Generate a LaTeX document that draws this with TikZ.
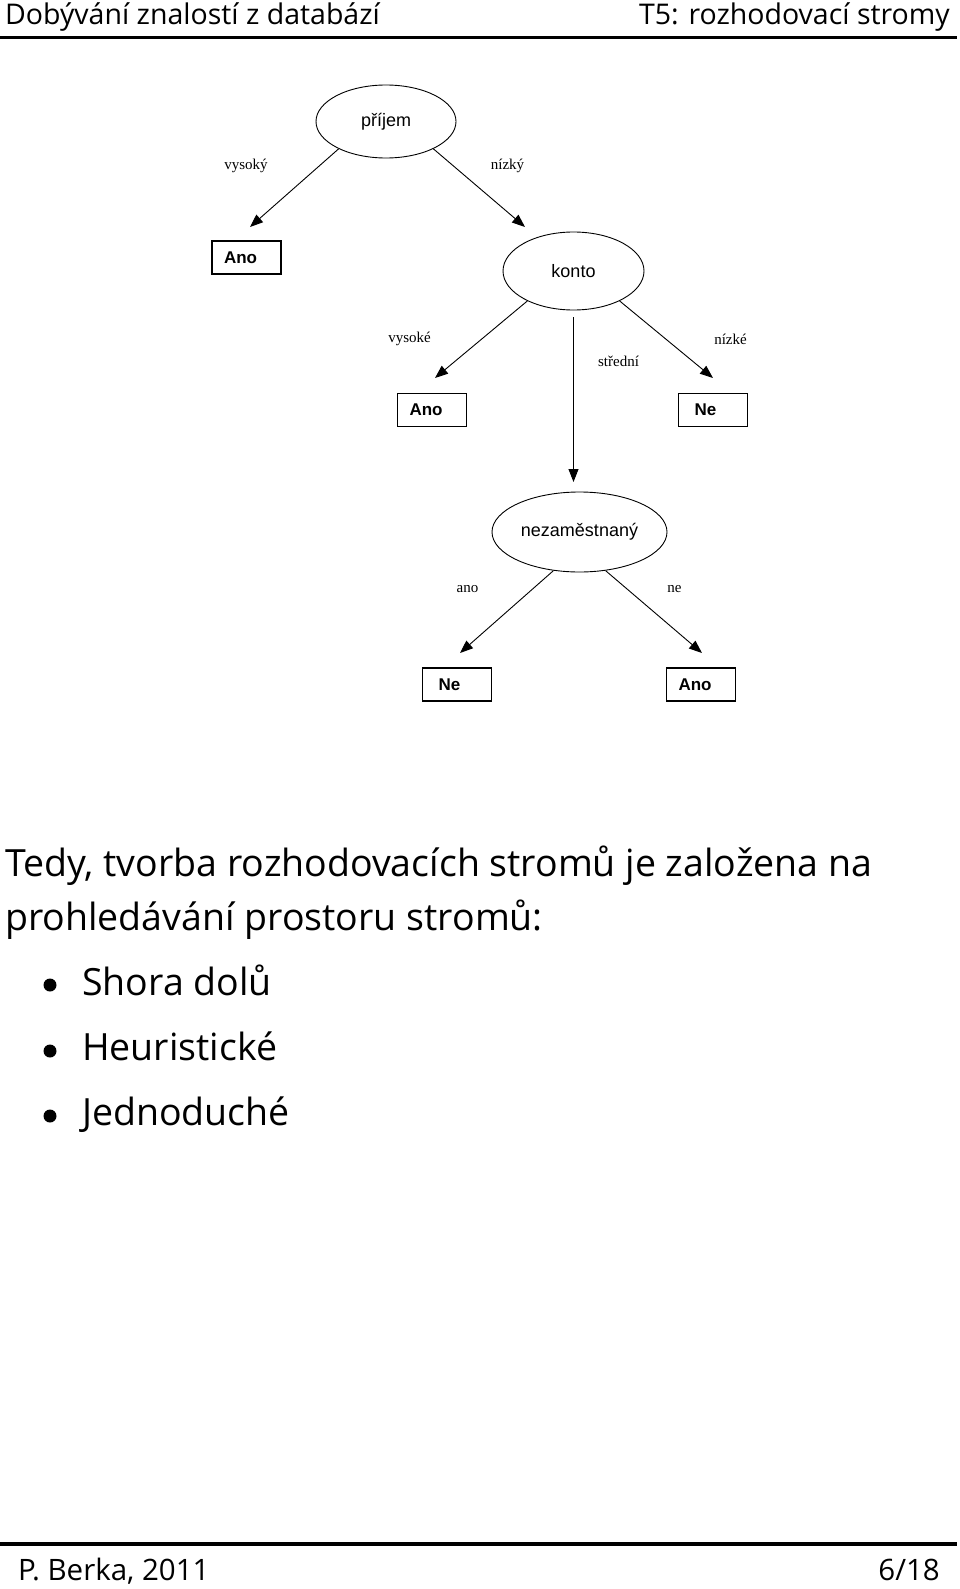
\documentclass[tikz,border=0pt]{standalone}
\usepackage{fontspec}
\usetikzlibrary{shapes.geometric,arrows.meta}
\newfontfamily\fComic{Open Sans}
\newfontfamily\fArial{Liberation Sans}
\newfontfamily\fTimes{Liberation Serif}
\begin{document}
\begin{tikzpicture}[x=1pt,y=-1pt,
  dec/.style={ellipse,draw,line width=0.9pt,inner sep=0pt,font=\fArial\fontsize{18}{20}\selectfont},
  leaf/.style={draw,line width=1.2pt,inner xsep=12pt,inner ysep=0pt,text width=45pt,minimum height=33pt,align=left,font=\fArial\bfseries\fontsize{17}{19}\selectfont},
  elab/.style={inner sep=0pt,font=\fTimes\fontsize{15}{17}\selectfont},
  arr/.style={line width=0.9pt,-{Triangle[length=13pt,width=10pt]}},
  slide/.style={inner sep=0pt,anchor=base west,font=\fComic\fontsize{37.5}{42}\selectfont},
  hdr/.style={inner sep=0pt,font=\fComic\fontsize{28.5}{32}\selectfont},
  ftr/.style={inner sep=0pt,font=\fComic\fontsize{29.5}{32}\selectfont},
  bul/.style={circle,fill=black,minimum size=13pt,inner sep=0pt},
  rule/.style={line width=3pt}
]
\useasboundingbox (0,0) rectangle (960,1589);
% header
\node[hdr,anchor=base west] (h1) at (5,25) {Dobývání znalostí z databází};
\node[hdr,anchor=base east] (h2) at (950,25) {T5: rozhodovací stromy};
\coordinate (hl) at (0,38); \coordinate (hr) at (957,38);
\draw[rule] (hl) -- (hr);
% tree
\node[dec,minimum width=140pt,minimum height=73pt] (p) at (386,121.5) {příjem};
\node[dec,minimum width=141pt,minimum height=78pt] (k) at (573.5,271) {konto};
\node[dec,minimum width=175pt,minimum height=80pt] (n) at (579.5,532) {nezaměstnaný};
\node[leaf] (l1) at (246.5,257.5) {Ano};
\node[leaf] (l2) at (432,410) {Ano};
\node[leaf] (l3) at (713,410) {\hspace*{4pt}Ne};
\node[leaf] (l4) at (457,684.5) {\hspace*{4pt}Ne};
\node[leaf] (l5) at (701,684.5) {Ano};
\coordinate (t1) at (250,227);
\coordinate (t2) at (525,227);
\coordinate (t3) at (435,378);
\coordinate (t4) at (573.5,482);
\coordinate (t5) at (713,378);
\coordinate (t6) at (460,653);
\coordinate (t7) at (702,653);
\draw[arr] (p.210) -- (t1);
\draw[arr] (p.330) -- (t2);
\draw[arr] (k.213) -- (t3);
\draw[arr,shorten <=7pt] (k.south) -- (t4);
\draw[arr] (k.327) -- (t5);
\draw[arr] (n.236) -- (t6);
\draw[arr] (n.304) -- (t7);
\node[elab] (e1) at (246,166) {vysoký};
\node[elab] (e2) at (507.5,166) {nízký};
\node[elab] (e3) at (409.5,339) {vysoké};
\node[elab] (e4) at (618.5,361) {střední};
\node[elab] (e5) at (730.5,339) {nízké};
\node[elab] (e6) at (467.5,589) {ano};
\node[elab] (e7) at (674.5,589) {ne};
% text
\node[slide] (s1) at (5,876) {Tedy, tvorba rozhodovacích stromů je založena na};
\node[slide] (s2) at (5,930) {prohledávání prostoru stromů:};
\node[bul] (b1) at (50,985) {};
\node[bul] (b2) at (50,1051) {};
\node[bul] (b3) at (50,1116) {};
\node[slide] (i1) at (82,995) {Shora dolů};
\node[slide] (i2) at (82,1060) {Heuristické};
\node[slide] (i3) at (82,1125) {Jednoduché};
% footer
\coordinate (fl) at (0,1544); \coordinate (fr) at (957,1544);
\draw[rule,line width=3.5pt] (fl) -- (fr);
\node[ftr,anchor=base west] (f1) at (18,1580) {P. Berka, 2011};
\node[ftr,anchor=base east] (f2) at (940,1580) {6/18};
\end{tikzpicture}
\end{document}
